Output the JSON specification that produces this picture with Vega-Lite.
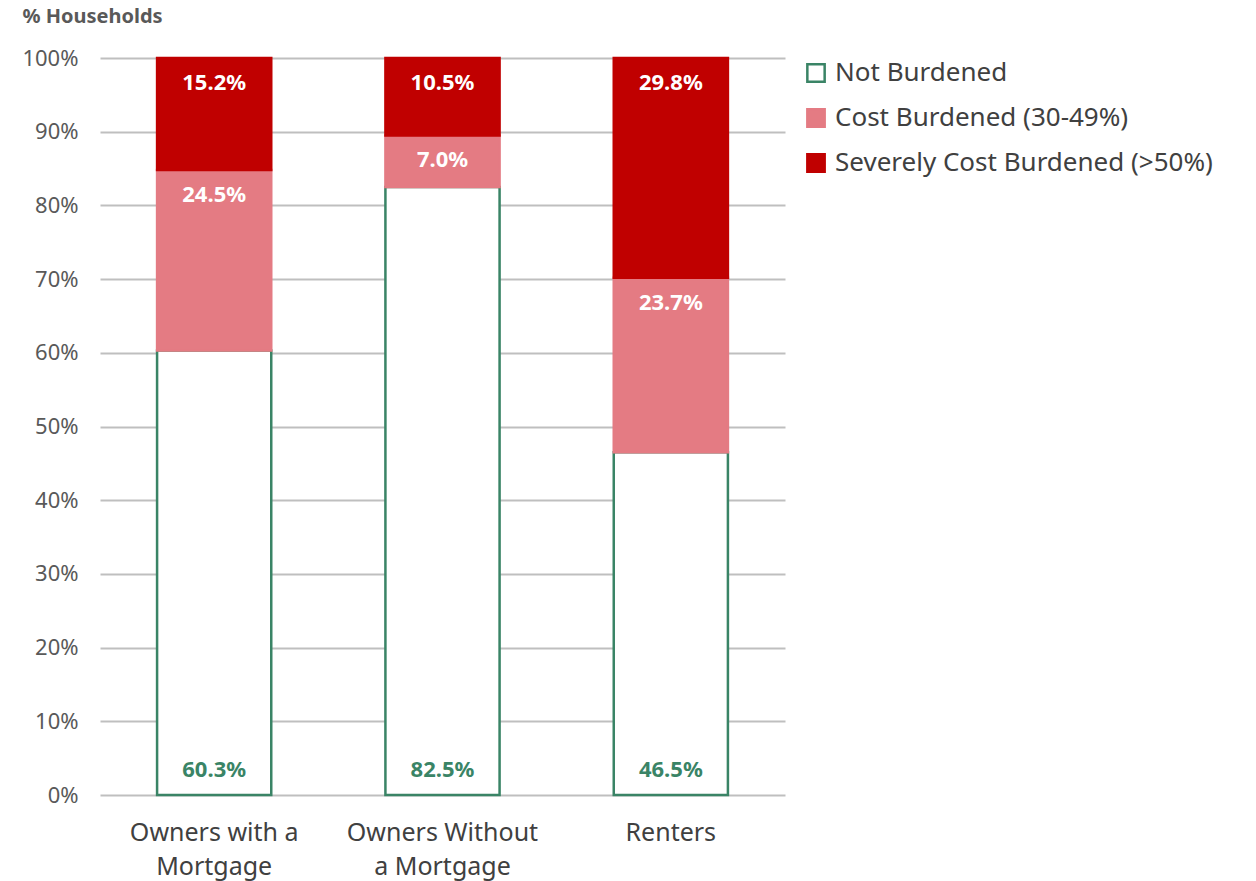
{
  "$schema": "https://vega.github.io/schema/vega-lite/v6.json",
  "width": 685,
  "height": 737,
  "autosize": {"type": "none"},
  "padding": {"left": 100, "top": 58, "right": 471, "bottom": 86},
  "background": "white",
  "config": {
    "font": "Noto Sans",
    "view": {"stroke": null}
  },
  "data": {
    "values": [
      {"group": "Owners with a Mortgage", "status": "Not Burdened", "order": 1, "value": 0.603},
      {"group": "Owners Without a Mortgage", "status": "Not Burdened", "order": 1, "value": 0.825},
      {"group": "Renters", "status": "Not Burdened", "order": 1, "value": 0.465},
      {"group": "Owners with a Mortgage", "status": "Cost Burdened (30-49%)", "order": 2, "value": 0.245},
      {"group": "Owners Without a Mortgage", "status": "Cost Burdened (30-49%)", "order": 2, "value": 0.07},
      {"group": "Renters", "status": "Cost Burdened (30-49%)", "order": 2, "value": 0.237},
      {"group": "Owners with a Mortgage", "status": "Severely Cost Burdened (>50%)", "order": 3, "value": 0.152},
      {"group": "Owners Without a Mortgage", "status": "Severely Cost Burdened (>50%)", "order": 3, "value": 0.105},
      {"group": "Renters", "status": "Severely Cost Burdened (>50%)", "order": 3, "value": 0.298}
    ]
  },
  "transform": [
    {"stack": "value", "groupby": ["group"], "sort": [{"field": "order", "order": "ascending"}], "as": ["v0", "v1"]}
  ],
  "encoding": {
    "x": {
      "field": "group",
      "type": "nominal",
      "sort": null,
      "scale": {"paddingInner": 0.5, "paddingOuter": 0.25},
      "axis": {
        "title": null,
        "labelAngle": 0,
        "domain": false,
        "ticks": false,
        "labelFontSize": 25,
        "labelColor": "#404040",
        "labelPadding": 37,
        "labelLineHeight": 34,
        "labelBaseline": "middle",
        "labelLimit": 400,
        "labelExpr": "datum.value == 'Owners with a Mortgage' ? ['Owners with a', 'Mortgage'] : datum.value == 'Owners Without a Mortgage' ? ['Owners Without', 'a Mortgage'] : datum.value"
      }
    }
  },
  "layer": [
    {
      "mark": {"type": "bar", "strokeWidth": 2.5},
      "encoding": {
        "y": {
          "field": "v1",
          "type": "quantitative",
          "scale": {"domain": [0, 1], "nice": false},
          "axis": {
            "format": ".0%",
            "values": [0, 0.1, 0.2, 0.3, 0.4, 0.5, 0.6, 0.7, 0.8, 0.9, 1],
            "domain": false,
            "ticks": false,
            "gridColor": "#BFBFBF",
            "gridWidth": 2,
            "labelFontSize": 22,
            "labelColor": "#595959",
            "labelPadding": 22,
            "title": "% Households",
            "titleAngle": 0,
            "titleAlign": "left",
            "titleBaseline": "middle",
            "titleX": -78,
            "titleY": -42,
            "titleFontSize": 20,
            "titleFontWeight": "bold",
            "titleColor": "#595959"
          }
        },
        "y2": {"field": "v0"},
        "fill": {
          "field": "status",
          "type": "nominal",
          "scale": {
            "domain": ["Not Burdened", "Cost Burdened (30-49%)", "Severely Cost Burdened (>50%)"],
            "range": ["#FFFFFF", "#E47B83", "#C00000"]
          },
          "legend": {
            "title": null,
            "orient": "none",
            "legendX": 703,
            "legendY": 2,
            "symbolType": "square",
            "symbolSize": 300,
            "symbolStrokeWidth": 2.5,
            "labelFontSize": 26,
            "labelColor": "#404040",
            "rowPadding": 17,
            "labelOffset": 6,
            "labelLimit": 500
          }
        },
        "stroke": {
          "field": "status",
          "type": "nominal",
          "scale": {
            "domain": ["Not Burdened", "Cost Burdened (30-49%)", "Severely Cost Burdened (>50%)"],
            "range": ["#3A8466", "#E47B83", "#C00000"]
          },
          "legend": null
        }
      }
    },
    {
      "transform": [{"filter": "datum.status == 'Not Burdened'"}],
      "mark": {"type": "text", "fontSize": 22, "fontWeight": "bold", "color": "#3A8466", "dy": -25, "baseline": "middle"},
      "encoding": {
        "y": {"field": "v0", "type": "quantitative"},
        "text": {"field": "value", "type": "quantitative", "format": ".1%"}
      }
    },
    {
      "transform": [{"filter": "datum.status != 'Not Burdened'"}],
      "mark": {"type": "text", "fontSize": 22, "fontWeight": "bold", "color": "#FFFFFF", "dy": 25, "baseline": "middle"},
      "encoding": {
        "y": {"field": "v1", "type": "quantitative"},
        "text": {"field": "value", "type": "quantitative", "format": ".1%"}
      }
    }
  ]
}
